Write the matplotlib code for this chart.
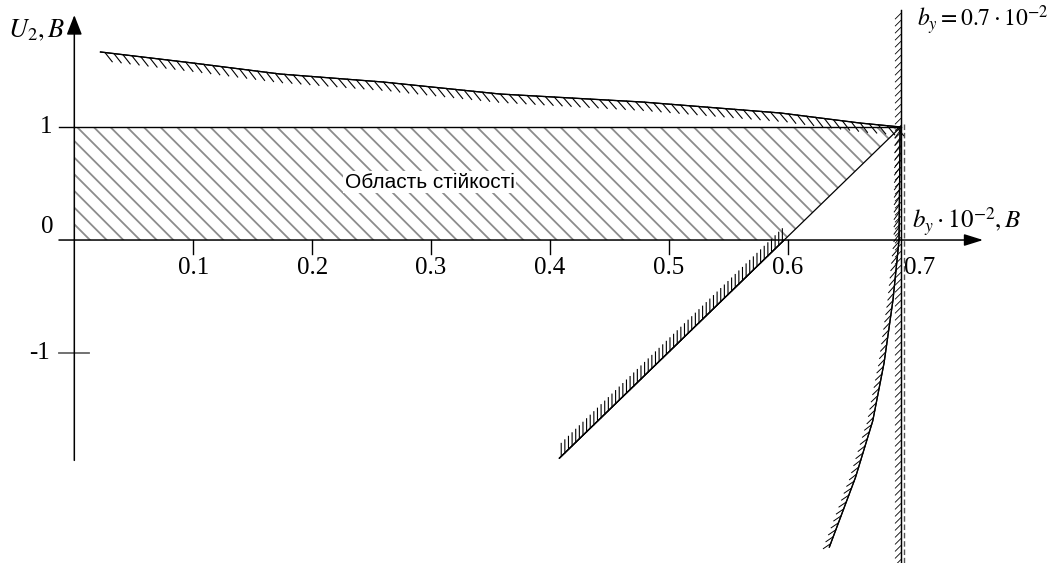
import matplotlib
matplotlib.use("Agg")
import matplotlib.pyplot as plt
from matplotlib import patheffects

plt.rcParams['font.family'] = ['Liberation Serif', 'DejaVu Serif']
plt.rcParams['mathtext.fontset'] = 'stix'
plt.rcParams['hatch.linewidth'] = 1.3

# data
region_x = [0, 0, 0.695, 0.597]
region_y = [0, 1, 1, 0]

upper_x = [0.022, 0.1, 0.173, 0.26, 0.358, 0.478, 0.594, 0.661, 0.695]
upper_y = [1.664, 1.566, 1.469, 1.398, 1.292, 1.221, 1.124, 1.035, 1.0]

diag_x = [0.408, 0.597, 0.695]
diag_y = [-1.93, 0.0, 1.0]

right_x = [0.6945, 0.6936, 0.6885, 0.681, 0.6715, 0.657, 0.635]
right_y = [1.0, 0.0, -0.531, -1.088, -1.6, -2.1, -2.717]

border_x = 0.695
dashed_x = 0.6975

xticks = [0.1, 0.2, 0.3, 0.4, 0.5, 0.6]
xtick_labels = ['0.1', '0.2', '0.3', '0.4', '0.5', '0.6']
yticks = [1, 0, -1]
ytick_labels = ['1', '0', '-1']

fig = plt.figure(figsize=(10.51, 5.63), dpi=100)
ax = fig.add_axes([0, 0, 1, 1])
ax.set_xlim(-0.0625, 0.8214)
ax.set_ylim(-2.858, 2.124)
ax.axis('off')

# stability region
ax.fill(region_x, region_y, facecolor='white', edgecolor='#8c8c8c', lw=0, hatch='\\\\')
ax.plot([0, border_x], [1, 1], color='black', lw=1.0)

# axes with arrows
ax.annotate('', xy=(0, 1.99), xytext=(0, -1.95),
            arrowprops=dict(arrowstyle='-|>,head_length=1.2,head_width=0.47',
                            lw=1.1, color='black', shrinkA=0, shrinkB=0,
                            mutation_scale=10))
ax.annotate('', xy=(0.7643, 0), xytext=(-0.0129, 0),
            arrowprops=dict(arrowstyle='-|>,head_length=1.15,head_width=0.36',
                            lw=1.1, color='black', shrinkA=0, shrinkB=0,
                            mutation_scale=10))

# ticks
for xt, lab in zip(xticks, xtick_labels):
    ax.plot([xt, xt], [0, -0.124], color='black', lw=1.0)
    ax.text(xt, -0.25, lab, ha='center', va='center', fontsize=18)
ax.text(0.711, -0.25, '0.7', ha='center', va='center', fontsize=18)

ax.plot([-0.0129, 0], [1, 1], color='black', lw=1.0)
ax.plot([-0.0129, 0.0125], [-1, -1], color='#666666', lw=1.3)
ax.text(-0.0187, 1.0, ytick_labels[0], ha='right', va='center', fontsize=18)
ax.text(-0.0179, 0.115, ytick_labels[1], ha='right', va='center', fontsize=18)
ax.text(-0.0204, -1.0, ytick_labels[2], ha='right', va='center', fontsize=18)

# upper boundary
ax.plot(upper_x, upper_y, color='black', lw=0.9,
        path_effects=[patheffects.withTickedStroke(angle=-45, spacing=6.5, length=1.3, linewidth=0.8),
                      patheffects.Normal()])

# diagonal boundary
ax.plot(diag_x, diag_y, color='black', lw=0.9)
ax.plot(diag_x[:2], diag_y[:2], color='black', lw=0.9,
        path_effects=[patheffects.withTickedStroke(angle=46, spacing=3.6, length=2.6, linewidth=0.8),
                      patheffects.Normal()])

# right curve
ax.plot(right_x, right_y, color='black', lw=0.9,
        path_effects=[patheffects.withTickedStroke(angle=-35, spacing=5.3, length=1.2, linewidth=0.7),
                      patheffects.Normal()])

# vertical border b_y = 0.7
ax.plot([border_x, border_x], [2.035, -2.86], color='black', lw=0.9,
        path_effects=[patheffects.withTickedStroke(angle=-45, spacing=5, length=1.1, linewidth=0.6),
                      patheffects.Normal()])
ax.plot([dashed_x, dashed_x], [1.03, -2.86], color='#555555', lw=1.0, ls=(0, (4, 2)))

# texts
ax.text(0.299, 0.513, 'Область стійкості', ha='center', va='center', fontsize=15,
        family=['Liberation Sans', 'DejaVu Sans'],
        bbox=dict(facecolor='white', edgecolor='none', pad=1))
ax.text(-0.0318, 1.858, r'$U_{2}, B$', ha='center', va='center', fontsize=19)
ax.text(0.7045, 0.159, r'$b_{y}\cdot10^{-2}, B$', ha='left', va='center', fontsize=18)
ax.text(0.7087, 1.947, r'$b_{y}=0.7\cdot10^{-2}$', ha='left', va='center', fontsize=17)

fig.savefig('out.png', dpi=100)
